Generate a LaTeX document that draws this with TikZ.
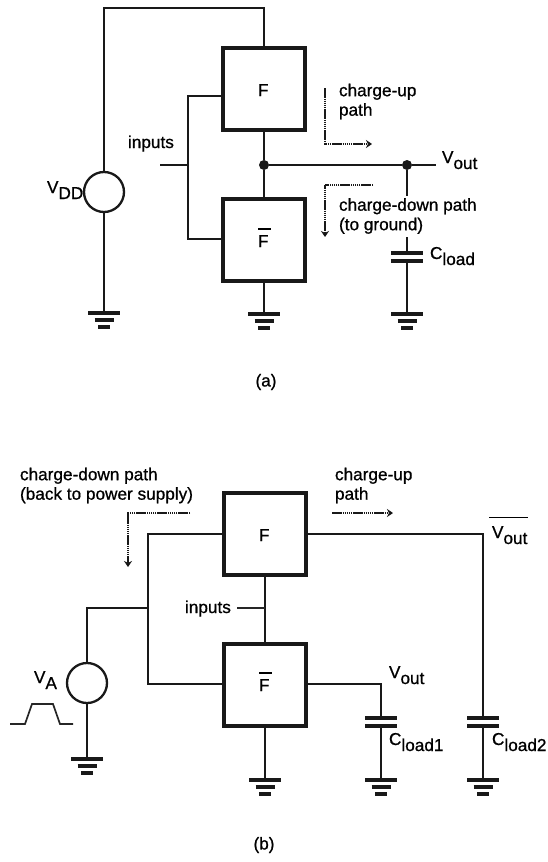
\documentclass[tikz,border=0pt]{standalone}
\usepackage{fontspec}
\setmainfont{Liberation Sans}[BoldFont={Liberation Sans},BoldFeatures={FakeBold=0.8}]
\usetikzlibrary{arrows.meta}
\newcommand{\sbs}[1]{\raisebox{-6pt}{#1}}
\tikzset{
  x=1pt,y=-1pt,
  every node/.style={font=\fontsize{17.2}{19.5}\selectfont\bfseries,inner sep=0pt,outer sep=0pt,text=black},
  wire/.style={line width=2.3pt,draw=black!90},
  inwire/.style={line width=1.7pt,draw=black!85},
  logicbox/.style={draw=black!90,line width=4.4pt,minimum width=82pt,minimum height=82pt,fill=white},
  source/.style={circle,draw=black!90,line width=2.3pt,minimum size=40pt,fill=white},
  dot/.style={circle,fill=black!90,minimum size=10pt},
  path dots/.style={line width=2.2pt,draw=black!90,dash pattern=on 1.5pt off 0.6pt,-{Stealth[length=6pt,width=8pt,fill=black,sep=0pt]}},
  lab/.style={anchor=base west},
  mlab/.style={anchor=west,align=left},
  gnd/.pic={
    \coordinate (-top) at (0,0);
    \draw[line width=4pt,draw=black!90] (-16,0) -- (16,0);
    \draw[line width=4pt,draw=black!90] (-9.5,7) -- (9.5,7);
    \draw[line width=4.5pt,draw=black!90] (-6,14) -- (6,14);
  },
  capac/.pic={
    \coordinate (-t) at (0,0);
    \coordinate (-b) at (0,8);
    \draw[line width=3.5pt,draw=black!90] (-16,0) -- (16,0);
    \draw[line width=3.5pt,draw=black!90] (-16,8) -- (16,8);
  },
}
\begin{document}
\begin{tikzpicture}
\useasboundingbox (0,0) rectangle (548,862);
% ---------- (a)
\node[logicbox] (fa) at (264,89) {};
\node[logicbox] (fba) at (264,240) {};
\node[lab] (fal) at (258,96) {F};
\node[lab] (fbal) at (258,247) {\rlap{\raisebox{17.5pt}{\rule{13pt}{1.5pt}}}F};
\node[source] (vdd) at (104,192) {};
\node[lab] (vddl) at (47,193) {V\sbs{DD}};
\coordinate (tr) at (264,8);
\coordinate (tl) at (104,8);
\draw[wire] (fa.north) -- (tr) -- (tl) -- (vdd.north);
\pic (g1) at (104,313) {gnd};
\pic (g2) at (264,314) {gnd};
\pic (g3) at (407,314) {gnd};
\draw[wire] (vdd.south) -- (g1-top);
\draw[wire] (fba.south) -- (g2-top);
\coordinate (ia) at (188,96);
\coordinate (ib) at (188,239);
\coordinate (ic) at (188,165);
\coordinate (id) at (160,165);
\draw[wire] (ia -| fa.west) -- (ia) -- (ib) -- (ib -| fba.west);
\draw[wire] (id) -- (ic);
\node[lab] (inl) at (128,148) {inputs};
\node[dot] (j1) at (264,165) {};
\node[dot] (j2) at (407,165) {};
\coordinate (voe) at (436,165);
\draw[wire] (fa.south) -- (j1) -- (fba.north);
\draw[wire] (j1) -- (j2) -- (voe);
\node[lab] (vol) at (442,163) {V\sbs{out}};
\pic (c1) at (407,253) {capac};
\coordinate (cga) at (407,196);
\coordinate (cgb) at (407,237);
\draw[wire] (j2) -- (cga);
\draw[wire] (cgb) -- (c1-t);
\draw[wire] (c1-b) -- (g3-top);
\node[lab] (cl) at (430,259) {C\sbs{load}};
\coordinate (ua) at (325,88);
\coordinate (ub) at (325,144);
\coordinate (uc) at (372,144);
\draw[path dots] (ua) -- (ub) -- (uc);
\node[mlab] (upl) at (339,101.5) {charge-up\\path};
\coordinate (da) at (373,185);
\coordinate (db) at (325,185);
\coordinate (dc) at (325,237);
\draw[path dots] (da) -- (db) -- (dc);
\node[mlab] (dnl) at (339,216) {charge-down path\\(to ground)};
\node[anchor=center] (capa) at (266,382) {(a)};
% ---------- (b)
\node[logicbox] (fb) at (265,534) {};
\node[logicbox] (fbb) at (265,685) {};
\node[lab] (fbl) at (259,541) {F};
\node[lab] (fbbl) at (259,691) {\rlap{\raisebox{17.5pt}{\rule{13pt}{1.5pt}}}F};
\node[source] (va) at (87,683) {};
\node[lab] (val) at (34,683) {V\sbs{A}};
\coordinate (p1) at (10,724);
\coordinate (p2) at (25,724);
\coordinate (p3) at (32,704);
\coordinate (p4) at (53,704);
\coordinate (p5) at (60,724);
\coordinate (p6) at (73,724);
\draw[inwire] (p1) -- (p2) -- (p3) -- (p4) -- (p5) -- (p6);
\coordinate (la) at (148,534);
\coordinate (lb) at (148,684);
\coordinate (lc) at (148,608);
\coordinate (ld) at (87,608);
\draw[wire] (fb.west) -- (la) -- (lb) -- (lb -| fbb.west);
\draw[wire] (lc) -- (ld) -- (va.north);
\pic (g4) at (87,759) {gnd};
\pic (g5) at (265,780) {gnd};
\pic (g6) at (381,780) {gnd};
\pic (g7) at (483,780) {gnd};
\draw[wire] (va.south) -- (g4-top);
\draw[wire] (fbb.south) -- (g5-top);
\coordinate (im) at (265,608);
\coordinate (il) at (237,608);
\draw[wire] (fb.south) -- (fbb.north);
\draw[inwire] (il) -- (im);
\node[lab] (inbl) at (185,613) {inputs};
\pic (c2) at (381,718) {capac};
\pic (c3) at (483,718) {capac};
\coordinate (o1) at (381,684);
\coordinate (o2) at (483,534);
\draw[wire] (fbb.east |- o1) -- (o1) -- (c2-t);
\draw[wire] (c2-b) -- (g6-top);
\draw[wire] (fb.east |- o2) -- (o2) -- (c3-t);
\draw[wire] (c3-b) -- (g7-top);
\node[lab] (vo1) at (389,678) {V\sbs{out}};
\node[lab] (vo2) at (492,538) {\rlap{\hspace{-3pt}\raisebox{20pt}{\rule{39pt}{1.5pt}}}V\sbs{out}};
\node[lab] (cl1) at (389,745) {C\sbs{load1}};
\node[lab] (cl2) at (492,745) {C\sbs{load2}};
\coordinate (ba) at (190,513);
\coordinate (bb) at (128,513);
\coordinate (bc) at (128,567);
\draw[path dots] (ba) -- (bb) -- (bc);
\node[mlab] (bdl) at (20,485.5) {charge-down path\\(back to power supply)};
\coordinate (bd) at (332,513);
\coordinate (be) at (393,513);
\draw[path dots] (bd) -- (be);
\node[mlab] (bul) at (335,485.5) {charge-up\\path};
\node[anchor=center] (capb) at (264,845) {(b)};
\end{tikzpicture}
\end{document}
